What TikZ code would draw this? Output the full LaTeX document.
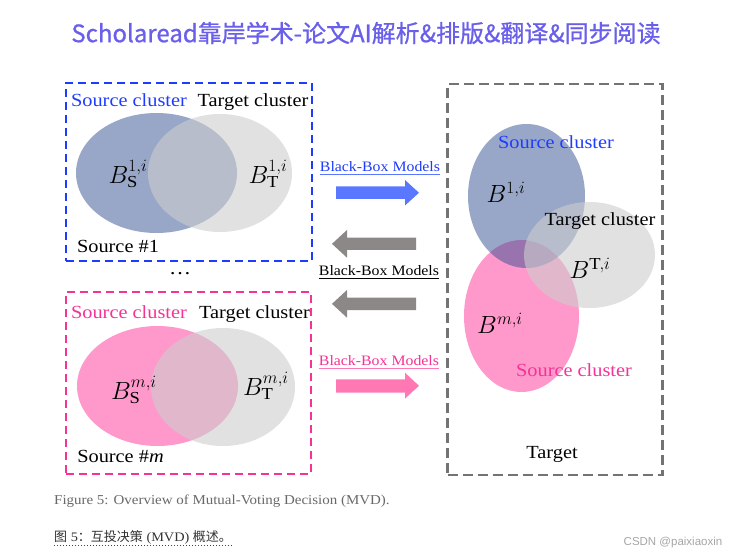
\documentclass[tikz,border=0pt]{standalone}
\usepackage{fontspec}
\setmainfont{Liberation Serif}[FakeStretch=1.1]
\newfontfamily\cjk{Noto Sans CJK SC}
\newfontfamily\cjktitle{Noto Sans CJK SC}[FakeBold=0.8]
\newfontfamily\wmfont{Liberation Sans}
\usetikzlibrary{shapes.geometric}
\definecolor{cblue}{RGB}{30,60,255}
\definecolor{cpink}{RGB}{245,50,150}
\definecolor{cgraybox}{RGB}{115,115,115}
\definecolor{eblue}{RGB}{50,80,145}
\definecolor{epink}{RGB}{255,51,153}
\definecolor{egray}{RGB}{205,205,205}
\definecolor{ablue}{RGB}{90,120,255}
\definecolor{apink}{RGB}{255,120,180}
\definecolor{agray}{RGB}{140,136,136}
\definecolor{ctitle}{RGB}{105,95,235}
\definecolor{ccap}{RGB}{105,105,105}
\begin{document}
\begin{tikzpicture}[x=1pt,y=-1pt,
  ell/.style={ellipse, inner sep=0pt, draw=none},
  bl/.style={ell, fill=eblue, fill opacity=0.5},
  pk/.style={ell, fill=epink, fill opacity=0.5},
  gr/.style={ell, fill=egray, fill opacity=0.6},
  lbl/.style={inner sep=0pt, font=\fontsize{18.5}{22}\selectfont},
  mth/.style={inner sep=0pt, font=\fontsize{24}{28}\selectfont},
  bbm/.style={inner sep=0pt, font=\fontsize{14.4}{17}\selectfont},
  dbox/.style={draw, line width=2.2pt, dash pattern=on 8pt off 5pt, inner sep=0pt, fill=none},
  uline/.style={line width=1.1pt},
]
\useasboundingbox (0,0) rectangle (739,556);
\fill[white] (0,0) rectangle (739,556);

% title
\node[inner sep=0pt, text=ctitle, font=\cjktitle\fontsize{24}{28}\selectfont] (title) at (366,33) {Scholaread靠岸学术-论文AI解析\&排版\&翻译\&同步阅读};

% source #1 box
\node[dbox, draw=cblue, minimum width=246, minimum height=178] (box1) at (189,172) {};
\node[bl, minimum width=161, minimum height=120] (s1) at (156.5,173) {};
\node[gr, minimum width=144, minimum height=118] (t1) at (220,173) {};
\node[lbl, text=cblue] (s1lab) at (129,100) {Source cluster};
\node[lbl] (t1lab) at (253,102) {Target cluster};
\node[mth] (bs1) at (128,174) {$B^{1,i}_{\mathrm{S}}$};
\node[mth] (bt1) at (268,174) {$B^{1,i}_{\mathrm{T}}$};
\node[lbl] (src1) at (118,246) {Source \#1};
\node[inner sep=0pt, font=\fontsize{20}{22}\selectfont] (dots) at (180,274) {\dots};

% source #m box
\node[dbox, draw=cpink, minimum width=245, minimum height=182] (boxm) at (188.5,383) {};
\node[pk, minimum width=161, minimum height=120] (sm) at (157.5,386) {};
\node[gr, minimum width=144, minimum height=118] (tm) at (223,387) {};
\node[lbl, text=cpink] (smlab) at (129,312) {Source cluster};
\node[lbl] (tmlab) at (254.5,314) {Target cluster};
\node[mth] (bsm) at (134,390) {$B^{m,i}_{\mathrm{S}}$};
\node[mth] (btm) at (266,386) {$B^{m,i}_{\mathrm{T}}$};
\node[lbl] (srcm) at (120.5,456) {Source \#\textit{m}};

% arrows and labels
\node[bbm, text=cblue] (bb1) at (380,167) {Black-Box Models};
\draw[uline, ablue] ([yshift=-3pt]bb1.base west) -- ([yshift=-3pt]bb1.base east);
\fill[ablue] (336,186.5) -- (405,186.5) -- (405,180) -- (419,192.75) -- (405,205.5) -- (405,199) -- (336,199) -- cycle;
\fill[agray] (416,237.7) -- (347,237.7) -- (347,230) -- (332,243.85) -- (347,257.7) -- (347,250) -- (416,250) -- cycle;
\node[bbm] (bb2) at (379,271) {Black-Box Models};
\draw[uline, black] ([yshift=-3pt]bb2.base west) -- ([yshift=-3pt]bb2.base east);
\fill[agray] (416,297.7) -- (347,297.7) -- (347,290) -- (332,303.85) -- (347,317.7) -- (347,310) -- (416,310) -- cycle;
\node[bbm, text=cpink] (bb3) at (379,360.5) {Black-Box Models};
\draw[uline, apink] ([yshift=-3pt]bb3.base west) -- ([yshift=-3pt]bb3.base east);
\fill[apink] (336,379.3) -- (405,379.3) -- (405,372.7) -- (419,385.8) -- (405,398.5) -- (405,392.7) -- (336,392.7) -- cycle;

% target box
\node[dbox, draw=cgraybox, dash pattern=on 10pt off 5pt, minimum width=215, minimum height=391] (boxt) at (555,279.5) {};
\node[pk, minimum width=115, minimum height=152] (tpk) at (521.5,316) {};
\node[bl, minimum width=117, minimum height=144] (tbl) at (526.5,196) {};
\node[gr, minimum width=131, minimum height=106] (tgr) at (589.5,255) {};
\node[lbl, text=cblue] (tslab1) at (556,142) {Source cluster};
\node[mth] (b1) at (506,192) {$B^{1,i}$};
\node[lbl] (ttlab) at (600,221) {Target cluster};
\node[mth] (bT) at (590,268) {$B^{\mathrm{T},i}$};
\node[mth] (bm) at (500,323) {$B^{m,i}$};
\node[lbl, text=cpink] (tslabm) at (574,370) {Source cluster};
\node[lbl] (tgt) at (552,454) {Target};

% captions
\node[inner sep=0pt, anchor=west, text=ccap, font=\fontsize{13.6}{16}\selectfont] (cap1) at (54,501) {Figure 5: Overview of Mutual-Voting Decision (MVD).};
\node[inner sep=0pt, anchor=west, text=black!80, font=\fontsize{13}{16}\selectfont] (cap2) at (54,537) {{\cjk 图} 5{\cjk ：互投决策} (MVD) {\cjk 概述。}};
\draw[dotted, line width=1pt, black!75] ([yshift=-4pt]cap2.base west) -- ([yshift=-4pt]cap2.base east);
\node[inner sep=0pt, text=black!35, font=\wmfont\fontsize{11.5}{13}\selectfont] (wm) at (673,543) {CSDN @paixiaoxin};
\end{tikzpicture}
\end{document}
